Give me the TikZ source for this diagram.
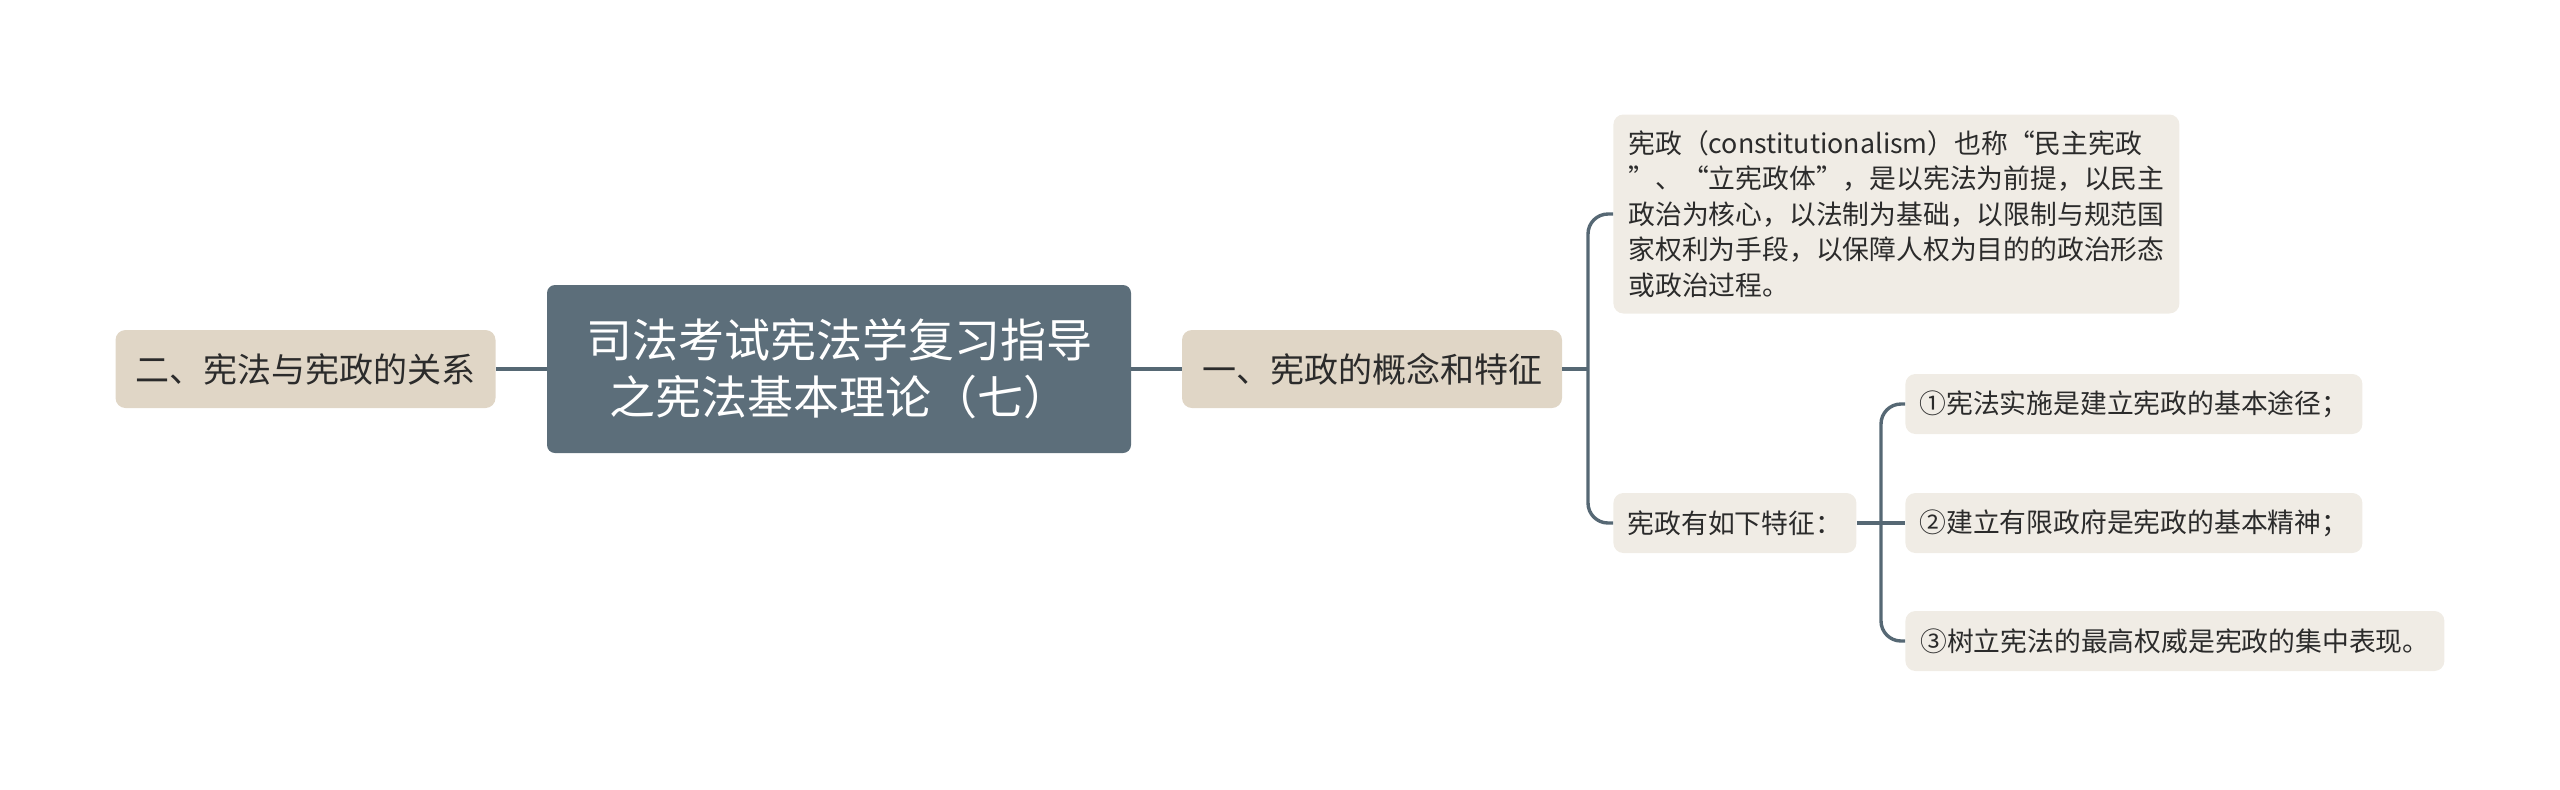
\documentclass[tikz,border=0pt]{standalone}
\usepackage{fontspec}
\setmainfont{Noto Sans CJK SC}
\usepackage{xcolor}
\usetikzlibrary{positioning, calc}
\definecolor{slate}{HTML}{5C6E7A}
\definecolor{linkc}{HTML}{566874}
\definecolor{sand}{HTML}{E0D6C6}
\definecolor{paper}{HTML}{F0ECE5}
\definecolor{ink}{HTML}{2B2B2B}

\begin{document}
\begin{tikzpicture}[x=0.5pt, y=-0.5pt,
  root/.style={rectangle, fill=slate, rounded corners=4pt, text=white, align=center, minimum width=292pt, minimum height=84pt, inner sep=0pt, font=\fontsize{23pt}{28.6pt}\selectfont},
  topic/.style={rectangle, fill=sand, rounded corners=5pt, text=ink, minimum width=190pt, minimum height=39pt, inner sep=0pt, font=\fontsize{17pt}{20pt}\selectfont},
  leaf/.style={rectangle, fill=paper, rounded corners=5pt, text=ink, minimum height=30pt, inner sep=0pt, font=\fontsize{13.4pt}{17.7pt}\selectfont},
  link/.style={draw=linkc, line width=1.7pt}
]
  \useasboundingbox (0,0) rectangle (2560,789);

  % Center and first level
  \node[root] (main) at (839,369) {司法考试宪法学复习指导\\之宪法基本理论（七）};
  \node[topic] (rel) at (305.5,369) {二、宪法与宪政的关系};
  \node[topic] (con) at (1372,369) {一、宪政的概念和特征};

  \draw[link] (rel.east) -- (main.west);
  \draw[link] (main.east) -- (con.west);

  % Second level
  \node[leaf, anchor=west, align=left, text width=268pt, minimum height=99.5pt, inner xsep=7.5pt] (def) at (1613,214)
    {宪政（constitutionalism）也称“民主宪政\\”、“立宪政体”，是以宪法为前提，以民主\\政治为核心，以法制为基础，以限制与规范国\\家权利为手段，以保障人权为目的的政治形态\\或政治过程。};
  \node[leaf, anchor=west, minimum width=121.5pt] (feat) at (1613,523) {宪政有如下特征：};

  \coordinate (busA) at (1588,369);
  \draw[link] (con.east) -- (busA);
  \draw[link, rounded corners=10pt] (def.west) -| (busA) |- (feat.west);

  % Third level
  \node[leaf, anchor=west, minimum width=228.5pt] (f1) at (1905,404) {①宪法实施是建立宪政的基本途径；};
  \node[leaf, anchor=west, minimum width=228.5pt] (f2) at (1905,523) {②建立有限政府是宪政的基本精神；};
  \node[leaf, anchor=west, minimum width=269.5pt] (f3) at (1905,641) {③树立宪法的最高权威是宪政的集中表现。};

  \coordinate (busB) at (1881,523);
  \draw[link] (feat.east) -- (f2.west);
  \draw[link, rounded corners=10pt] (f1.west) -| (busB) |- (f3.west);

\end{tikzpicture}
\end{document}
